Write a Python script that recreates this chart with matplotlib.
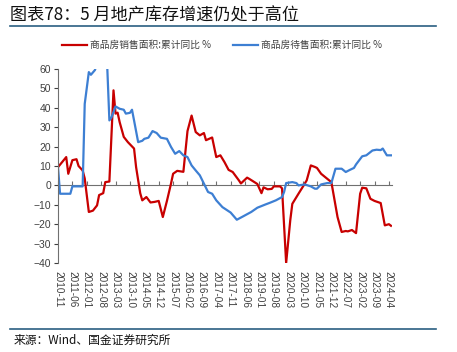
import matplotlib
matplotlib.use("Agg")
import matplotlib.pyplot as plt
from matplotlib.lines import Line2D

plt.rcParams['font.family'] = ['Liberation Sans', 'Noto Sans CJK SC', 'DejaVu Sans']

# 商品房销售面积:累计同比 % (vertices)
sales_dates = ["2010-11", "2011-03", "2011-04", "2011-06", "2011-08", "2011-09", "2011-11", "2011-12",
               "2012-02", "2012-04", "2012-06", "2012-07", "2012-09", "2012-10", "2012-12",
               "2013-02", "2013-03", "2013-04", "2013-05", "2013-07", "2013-09", "2013-12",
               "2014-01", "2014-03", "2014-04", "2014-06", "2014-08", "2014-10", "2014-12",
               "2015-02", "2015-04", "2015-06", "2015-07", "2015-09", "2015-12",
               "2016-02", "2016-04", "2016-06", "2016-08", "2016-10", "2016-11",
               "2017-02", "2017-04", "2017-06", "2017-08", "2017-10", "2017-12",
               "2018-03", "2018-04", "2018-07", "2018-08", "2018-11", "2018-12",
               "2019-02", "2019-03", "2019-05", "2019-07", "2019-08", "2019-11", "2019-12",
               "2020-02", "2020-04", "2020-05", "2020-08", "2020-10", "2020-12",
               "2021-02", "2021-04", "2021-05", "2021-07", "2021-10", "2021-12",
               "2022-03", "2022-05", "2022-07", "2022-08", "2022-10", "2022-12",
               "2023-02", "2023-03", "2023-05", "2023-07", "2023-09", "2023-12",
               "2024-02", "2024-04", "2024-05"]
sales_yoy = [9.4, 14.6, 6.0, 13.0, 13.5, 10.0, 7.7, 3.6,
             -13.7, -13.0, -10.3, -5.0, -4.0, 1.7, 2.0,
             49.0, 37.0, 37.5, 32.6, 25.0, 22.3, 19.0,
             9.4, -4.0, -7.7, -6.0, -8.8, -8.5, -8.0,
             -16.3, -8.0, 1.0, 6.0, 7.5, 7.0,
             28.0, 36.0, 27.5, 25.8, 27.0, 23.3,
             24.7, 14.6, 15.5, 12.0, 8.0, 6.9,
             2.6, 1.0, 4.0, 3.4, 1.4, 0.7,
             -4.0, -1.0, -2.0, -1.8, -0.5, -0.5, -1.5,
             -40.0, -18.0, -9.5, -4.3, -0.9, 2.6,
             10.3, 9.5, 9.0, 6.0, 3.4, 1.7,
             -16.3, -24.0, -23.5, -23.7, -23.0, -24.6,
             -4.3, -1.2, -1.5, -6.9, -8.0, -9.1,
             -20.6, -20.0, -20.8]

# 商品房待售面积:累计同比 %
stock_dates = ["2010-11", "2010-12", "2011-05", "2011-06", "2011-11", "2011-12",
               "2012-02", "2012-03", "2012-05", "2012-06", "2012-07", "2012-08", "2012-09", "2012-10", "2012-11", "2012-12",
               "2013-01", "2013-03", "2013-05", "2013-07", "2013-08", "2013-10", "2013-11", "2013-12",
               "2014-02", "2014-04", "2014-05", "2014-07", "2014-09", "2014-11",
               "2015-01", "2015-04", "2015-06", "2015-08", "2015-10", "2015-12",
               "2016-02", "2016-04", "2016-06", "2016-08", "2016-10", "2016-12",
               "2017-02", "2017-04", "2017-07", "2017-11",
               "2018-02", "2018-05", "2018-09", "2018-12",
               "2019-04", "2019-06", "2019-09", "2019-12",
               "2020-01", "2020-02", "2020-05", "2020-07", "2020-08", "2020-11",
               "2021-02", "2021-04", "2021-05", "2021-07", "2021-10", "2021-12",
               "2022-02", "2022-05", "2022-07", "2022-09", "2022-11", "2022-12",
               "2023-03", "2023-05", "2023-08", "2023-10", "2023-12",
               "2024-01", "2024-03", "2024-05"]
stock_yoy = [9.4, -4.3, -4.3, -0.5, -0.5, 42.0,
             58.4, 57.0, 59.5, 63.0, 67.0, 69.0, 67.0, 64.0, 60.0, 33.5,
             35.0, 40.7, 39.5, 39.0, 37.0, 37.4, 39.0, 33.5,
             22.3, 23.0, 24.0, 24.6, 28.0, 27.0,
             24.6, 24.0, 19.8, 16.3, 17.7, 15.5,
             14.6, 10.3, 7.7, 5.2, 0.9, -3.4,
             -4.3, -7.7, -11.2, -14.0,
             -17.7, -16.0, -13.7, -11.5,
             -9.8, -9.0, -7.7, -6.0,
             -3.4, 1.2, 1.7, 1.2, 0.0, 0.5,
             -0.5, -1.7, -1.7, 0.5, 1.2, 1.2,
             8.6, 8.6, 6.9, 8.0, 9.0, 10.8,
             15.0, 15.5, 18.0, 18.4, 18.2,
             19.0, 15.5, 15.5]

tick_labels = ["2010-11", "2011-06", "2012-01", "2012-08", "2013-03", "2013-10", "2014-05",
               "2014-12", "2015-07", "2016-02", "2016-09", "2017-04", "2017-11", "2018-06",
               "2019-01", "2019-08", "2020-03", "2020-10", "2021-05", "2021-12", "2022-07",
               "2023-02", "2023-09", "2024-04"]


def month_idx(s):
    y, m = s.split("-")
    return (int(y) - 2010) * 12 + int(m) - 11


red = '#C80000'
blue = '#3D7FD3'
grey = '#404040'
cjk = ['Noto Sans CJK SC', 'DejaVu Sans']

fig = plt.figure(figsize=(4.57, 3.52), dpi=100)
ax = fig.add_axes([58 / 457, 1 - 263 / 352, (392 - 58) / 457, (263 - 69) / 352])

ax.plot([month_idx(d) for d in sales_dates], sales_yoy, color=red, lw=1.6, solid_joinstyle='round')
ax.plot([month_idx(d) for d in stock_dates], stock_yoy, color=blue, lw=1.6, solid_joinstyle='round')

ax.set_xlim(0, 162.5)
ax.set_ylim(-40, 60)
ax.set_yticks(range(-40, 61, 10))
ax.tick_params(axis='y', labelsize=7.5, colors=grey, length=3, width=0.8, pad=2)
for s in ['top', 'right', 'bottom']:
    ax.spines[s].set_visible(False)
ax.spines['left'].set_color('#707070')
ax.spines['left'].set_linewidth(0.8)

ticks = [month_idx(t) for t in tick_labels]
ax.set_xticks(ticks)
ax.set_xticklabels(tick_labels, rotation=-90, fontsize=7.2, color=grey)
ax.tick_params(axis='x', length=0, pad=6)

# zero axis line with inward ticks
zax = ax.secondary_xaxis(0.4)
zax.set_xticks(ticks)
zax.set_xticklabels([])
zax.tick_params(axis='x', direction='in', length=3, width=0.8, colors='#707070')
zax.spines['bottom'].set_color('#707070')
zax.spines['bottom'].set_linewidth(0.8)

# legend
handles = [Line2D([], [], color=red, lw=1.6), Line2D([], [], color=blue, lw=1.6)]
fig.legend(handles, ["商品房销售面积:累计同比 %", "商品房待售面积:累计同比 %"],
           loc='center left', bbox_to_anchor=(62 / 457, 1 - 45 / 352), ncol=2, frameon=False,
           handlelength=2.6, handletextpad=0.3, columnspacing=2.2,
           borderpad=0, borderaxespad=0,
           labelcolor=grey, prop={'family': cjk, 'size': 7})

# title and footer
fig.text(10 / 457, 1 - 15 / 352, "图表78：5 月地产库存增速仍处于高位", fontsize=12.3,
         family=cjk, style='italic', va='center', color='#111111')
fig.add_artist(Line2D([10 / 457, 436 / 457], [1 - 26 / 352] * 2, color='#2A5F82', lw=1.2))
fig.add_artist(Line2D([10 / 457, 436 / 457], [1 - 329 / 352] * 2, color='#2A5F82', lw=1.2))
fig.text(14 / 457, 1 - 340 / 352, "来源：Wind、国金证券研究所", fontsize=8.5,
         family=cjk, va='center', color='#111111')

fig.savefig("out.png", dpi=100)
